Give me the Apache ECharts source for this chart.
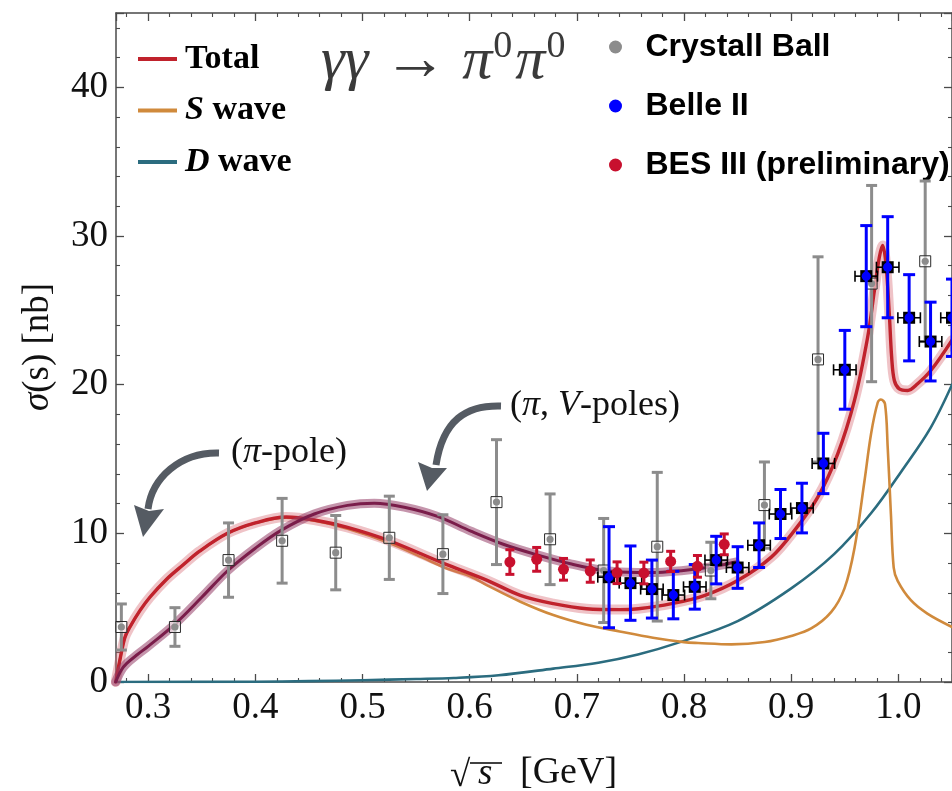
<!DOCTYPE html>
<html>
<head>
<meta charset="utf-8">
<script src="https://cdn.jsdelivr.net/npm/echarts@6/dist/echarts.min.js"></script>
<style>
  html, body { margin: 0; padding: 0; background: #ffffff; }
  #chart { width: 952px; height: 791px; }
</style>
</head>
<body>
<div id="chart"></div>
<script>
// ---- model curves (sqrt(s) in GeV, sigma in nb) ----
const totalX = [0.2697, 0.2737, 0.2783, 0.283, 0.2923, 0.3016, 0.317, 0.333, 0.348, 0.374, 0.40, 0.4287, 0.455, 0.486, 0.525, 0.575, 0.6163, 0.6473, 0.678, 0.709, 0.740, 0.7574, 0.7884, 0.8195, 0.8504, 0.8814, 0.9031, 0.9248, 0.9434, 0.959, 0.9713, 0.9776, 0.9822, 0.9853, 0.9884, 0.9915, 0.9937, 0.9962, 1.0008, 1.0086, 1.0179, 1.0302, 1.05];
const totalY = [0, 1.5, 3.0, 3.7, 4.8, 5.7, 6.9, 7.9, 8.8, 10.0, 10.7, 11.1, 10.9, 10.4, 9.5, 8.0, 6.84, 5.83, 5.27, 4.93, 4.87, 4.93, 5.27, 5.83, 6.84, 8.4, 10.2, 12.44, 15.35, 18.94, 23.19, 26.33, 28.57, 29.36, 28.1, 24.77, 21.85, 20.28, 19.72, 19.61, 20.06, 20.95, 23.0];

const sWaveX = [0.2697, 0.2737, 0.2783, 0.283, 0.2923, 0.3016, 0.317, 0.333, 0.348, 0.374, 0.40, 0.4287, 0.455, 0.486, 0.525, 0.555, 0.58, 0.6008, 0.6163, 0.6473, 0.678, 0.709, 0.740, 0.771, 0.80, 0.8132, 0.8442, 0.8753, 0.90, 0.9186, 0.9372, 0.9497, 0.959, 0.9683, 0.9745, 0.9807, 0.9837, 0.9875, 0.99, 0.993, 0.9956, 0.9993, 1.0116, 1.027, 1.05];
const sWaveY = [0, 1.5, 3.0, 3.7, 4.8, 5.7, 6.9, 7.9, 8.8, 10.0, 10.7, 11.05, 10.85, 10.3, 9.35, 8.4, 7.6, 7.1, 6.5, 5.4, 4.5, 3.85, 3.4, 2.98, 2.68, 2.62, 2.53, 2.69, 3.1, 3.6, 4.7, 6.3, 9.0, 13.5, 16.7, 18.8, 19.0, 18.7, 15.8, 11.3, 7.7, 6.8, 5.5, 4.6, 3.7];

const dWaveX = [0.2697, 0.40, 0.45, 0.50, 0.55, 0.5853, 0.627, 0.678, 0.72, 0.757, 0.797, 0.85, 0.90, 0.94, 0.975, 1.005, 1.03, 1.05];
const dWaveY = [0, 0.02, 0.06, 0.12, 0.2, 0.27, 0.45, 0.9, 1.3, 1.85, 2.7, 4.1, 6.3, 8.6, 11.4, 14.4, 17.1, 20.0];

const poleX = [0.2697, 0.275, 0.28, 0.29, 0.30, 0.325, 0.35, 0.3744, 0.40, 0.424, 0.455, 0.486, 0.511, 0.539, 0.57, 0.601, 0.632, 0.663, 0.694, 0.725, 0.756, 0.78, 0.807, 0.83, 0.848];
const poleY = [0, 0.8, 1.25, 1.85, 2.4, 3.9, 5.7, 7.5, 9.0, 10.2, 11.3, 11.88, 12.03, 11.76, 11.14, 10.15, 9.25, 8.55, 7.95, 7.5, 7.37, 7.39, 7.56, 7.8, 8.07];

// ---- measurements ----
const cbX = [0.275, 0.325, 0.375, 0.425, 0.475, 0.525, 0.575, 0.625, 0.675, 0.725, 0.775, 0.825, 0.875, 0.925, 0.975, 1.025];
const cbY = [3.7, 3.7, 8.2, 9.5, 8.7, 9.7, 8.6, 12.1, 9.6, 7.5, 9.1, 7.5, 11.9, 21.7, 26.8, 28.3];
const cbErr = [1.55, 1.3, 2.5, 2.85, 2.5, 2.8, 2.65, 4.2, 3.05, 3.5, 5.0, 1.9, 2.9, 6.9, 6.6, 5.4];

const belleX = [0.73, 0.75, 0.77, 0.79, 0.81, 0.83, 0.85, 0.87, 0.89, 0.91, 0.93, 0.95, 0.97, 0.99, 1.01, 1.03, 1.05];
const belleY = [7.05, 6.65, 6.25, 5.85, 6.4, 8.2, 7.7, 9.2, 11.3, 11.7, 14.7, 21.0, 27.3, 27.9, 24.5, 22.9, 24.5];
const belleErr = [3.4, 2.5, 1.95, 1.6, 1.5, 1.6, 1.4, 1.5, 1.65, 1.67, 2.03, 2.65, 3.4, 3.4, 2.9, 2.65, 2.6];
const belleBinHalf = 0.0105;

const besX = [0.6375, 0.6625, 0.6875, 0.7125, 0.7375, 0.7625, 0.7875, 0.8125, 0.8375];
const besY = [8.07, 8.25, 7.58, 7.46, 7.35, 7.33, 8.11, 7.78, 9.26];
const besErr = [0.83, 0.8, 0.73, 0.75, 0.73, 0.73, 0.68, 0.73, 0.7];

// ---- axis ranges ----
const X_MIN = 0.27, X_MAX = 1.05;
const Y_MIN = 0, Y_MAX = 45, Y_STEP = 10;

const SERIF = '"Liberation Serif", "Times New Roman", serif';
const SANS = '"Liberation Sans", Arial, sans-serif';

const C_TOTAL = '#c0222c';
const C_TOTAL_BAND = 'rgba(214, 96, 108, 0.38)';
const C_S = '#d08a3c';
const C_D = '#2b6c7f';
const C_POLE = '#7a1d4a';
const C_POLE_BAND = 'rgba(150, 62, 104, 0.55)';
const C_CB = '#8c8c8c';
const C_BELLE = '#0000ff';
const C_BES = '#c8102e';
const C_AXIS = '#4a4a4a';
const C_ARROW = '#555b63';
const C_TITLE = '#3a3a3a';

const zip = (xs, ys) => xs.map((x, i) => [x, ys[i]]);
const zip3 = (xs, ys, es) => xs.map((x, i) => [x, ys[i], es[i]]);

function curve(name, xs, ys, color, width, z) {
  return {
    name: name, type: 'line', data: zip(xs, ys), showSymbol: false, symbol: 'none',
    smooth: 0.35, silent: true, z: z,
    lineStyle: { color: color, width: width, cap: 'round', join: 'round' },
    itemStyle: { color: color }
  };
}

function vBar(api, x, y, e, color, lw, capHalf) {
  const top = api.coord([x, y + e]);
  const bot = api.coord([x, y - e]);
  const st = { stroke: color, lineWidth: lw };
  return [
    { type: 'line', shape: { x1: top[0], y1: top[1], x2: bot[0], y2: bot[1] }, style: st },
    { type: 'line', shape: { x1: top[0] - capHalf, y1: top[1], x2: top[0] + capHalf, y2: top[1] }, style: st },
    { type: 'line', shape: { x1: bot[0] - capHalf, y1: bot[1], x2: bot[0] + capHalf, y2: bot[1] }, style: st }
  ];
}

function renderCB(params, api) {
  const x = api.value(0), y = api.value(1), e = api.value(2);
  const c = api.coord([x, y]);
  const kids = vBar(api, x, y, e, C_CB, 3, 5.5);
  kids.push({ type: 'rect', shape: { x: c[0] - 5.5, y: c[1] - 5.5, width: 11, height: 11 },
              style: { fill: 'rgba(255,255,255,0.55)', stroke: '#2a2a2a', lineWidth: 1 } });
  kids.push({ type: 'circle', shape: { cx: c[0], cy: c[1], r: 3.6 }, style: { fill: C_CB } });
  return { type: 'group', children: kids };
}

function renderBelle(params, api) {
  const x = api.value(0), y = api.value(1), e = api.value(2);
  const c = api.coord([x, y]);
  const l = api.coord([x - belleBinHalf, y]);
  const r = api.coord([x + belleBinHalf, y]);
  const st = { stroke: '#000', lineWidth: 1.6 };
  const kids = [
    { type: 'line', shape: { x1: l[0], y1: l[1], x2: r[0], y2: r[1] }, style: st },
    { type: 'line', shape: { x1: l[0], y1: l[1] - 5.5, x2: l[0], y2: l[1] + 5.5 }, style: st },
    { type: 'line', shape: { x1: r[0], y1: r[1] - 5.5, x2: r[0], y2: r[1] + 5.5 }, style: st },
    { type: 'rect', shape: { x: c[0] - 6, y: c[1] - 6, width: 12, height: 12 }, style: { fill: '#000' } }
  ];
  vBar(api, x, y, e, C_BELLE, 3, 6).forEach(k => kids.push(k));
  kids.push({ type: 'circle', shape: { cx: c[0], cy: c[1], r: 4.6 }, style: { fill: C_BELLE } });
  return { type: 'group', children: kids };
}

function renderBES(params, api) {
  const x = api.value(0), y = api.value(1), e = api.value(2);
  const c = api.coord([x, y]);
  const kids = vBar(api, x, y, e, C_BES, 3, 4.5);
  kids.push({ type: 'circle', shape: { cx: c[0], cy: c[1], r: 5.5 }, style: { fill: C_BES } });
  return { type: 'group', children: kids };
}

function dataSeries(name, data, render, color, z) {
  return {
    name: name, type: 'custom', data: data, renderItem: render, z: z,
    itemStyle: { color: color }, encode: { x: 0, y: 1 }, silent: true
  };
}

function xAxisDef(position, showLabel) {
  return {
    type: 'value', position: position, min: X_MIN, max: X_MAX, splitNumber: 8,
    axisLine: { show: true, onZero: false, lineStyle: { color: C_AXIS, width: 1.5 } },
    axisTick: { show: true, inside: true, length: 8, lineStyle: { color: C_AXIS, width: 1.3 } },
    minorTick: { show: true, splitNumber: 5, length: 4, lineStyle: { color: C_AXIS, width: 1.1 } },
    splitLine: { show: false }, minorSplitLine: { show: false },
    axisLabel: {
      show: showLabel, margin: 8, fontFamily: SERIF, fontSize: 37, color: '#111',
      showMinLabel: false, showMaxLabel: false,
      formatter: v => v.toFixed(1)
    }
  };
}

function yAxisDef(position, showLabel) {
  return {
    type: 'value', position: position, min: Y_MIN, max: Y_MAX, interval: Y_STEP,
    axisLine: { show: true, onZero: false, lineStyle: { color: C_AXIS, width: 1.5 } },
    axisTick: { show: true, inside: true, length: 8, lineStyle: { color: C_AXIS, width: 1.3 } },
    minorTick: { show: true, splitNumber: 5, length: 4, lineStyle: { color: C_AXIS, width: 1.1 } },
    splitLine: { show: false }, minorSplitLine: { show: false },
    axisLabel: {
      show: showLabel, margin: 8, fontFamily: SERIF, fontSize: 37, color: '#111',
      showMaxLabel: false
    }
  };
}

const chart = echarts.init(document.getElementById('chart'), null, { renderer: 'canvas' });

const option = {
  animation: false,
  backgroundColor: '#ffffff',
  textStyle: { fontFamily: SERIF },
  grid: { left: 116, top: 13, width: 838.6, height: 669, containLabel: false },
  xAxis: [xAxisDef('bottom', true), xAxisDef('top', false)],
  yAxis: [yAxisDef('left', true), yAxisDef('right', false)],
  legend: [
    {
      data: ['Total', 'S wave', 'D wave'],
      orient: 'vertical', left: 133, top: 37, itemGap: 17.5,
      icon: 'rect', itemWidth: 39, itemHeight: 4,
      selectedMode: false,
      formatter: function (name) {
        if (name === 'S wave') return '{p|}{i|S} wave';
        if (name === 'D wave') return '{p|}{i|D} wave';
        return '{p|}' + name;
      },
      textStyle: {
        fontFamily: SERIF, fontWeight: 'bold', fontSize: 34, color: '#000',
        rich: {
          p: { width: 3 },
          i: { fontFamily: SERIF, fontStyle: 'italic', fontWeight: 'bold', fontSize: 34, color: '#000' }
        }
      }
    },
    {
      data: ['Crystall Ball', 'Belle II', 'BES III (preliminary)'],
      orient: 'vertical', left: 604, top: 26, itemGap: 27,
      icon: 'circle', itemWidth: 50, itemHeight: 13,
      selectedMode: false,
      textStyle: { fontFamily: SANS, fontWeight: 'bold', fontSize: 32, color: '#000' }
    }
  ],
  series: [
    curve('D wave', dWaveX, dWaveY, C_D, 2.6, 2),
    curve('S wave', sWaveX, sWaveY, C_S, 2.6, 3),
    curve('Total band', totalX, totalY, C_TOTAL_BAND, 10, 4),
    curve('Total', totalX, totalY, C_TOTAL, 3.4, 5),
    curve('pole band', poleX, poleY, C_POLE_BAND, 9, 6),
    curve('pole', poleX, poleY, C_POLE, 3, 7),
    dataSeries('Crystall Ball', zip3(cbX, cbY, cbErr), renderCB, C_CB, 10),
    dataSeries('Belle II', zip3(belleX, belleY, belleErr), renderBelle, C_BELLE, 11),
    dataSeries('BES III (preliminary)', zip3(besX, besY, besErr), renderBES, C_BES, 12)
  ],
  graphic: [
    // process title
    {
      type: 'text', left: 321, top: 28, z: 20,
      style: {
        text: '{g|γγ}{sp|}{a|→}{sp|}{g|π}{s|0}{g|π}{s|0}',
        font: '58px ' + SERIF, fill: C_TITLE,
        rich: {
          g: { fontFamily: SERIF, fontStyle: 'italic', fontSize: 60, fill: C_TITLE },
          a: { fontFamily: SERIF, fontSize: 64, fill: C_TITLE },
          sp: { width: 15 },
          s: { fontFamily: SERIF, fontSize: 38, fill: C_TITLE, verticalAlign: 'top', padding: [0, 3, 30, 1] }
        }
      }
    },
    // y axis title
    {
      type: 'text', x: 38, y: 347, rotation: Math.PI / 2, z: 20,
      style: {
        text: '{i|σ}(s) [nb]', align: 'center', verticalAlign: 'middle',
        font: '37px ' + SERIF, fill: '#111',
        rich: { i: { fontFamily: SERIF, fontStyle: 'italic', fontSize: 37, fill: '#111' } }
      }
    },
    // x axis title: radical sign, s, vinculum, unit
    { type: 'text', x: 450, y: 776, z: 20,
      style: { text: '√', font: '37px ' + SERIF, fill: '#111', verticalAlign: 'middle' } },
    { type: 'text', x: 478, y: 774, z: 20,
      style: { text: 's', font: 'italic 37px ' + SERIF, fill: '#111', verticalAlign: 'middle' } },
    { type: 'line', z: 20, shape: { x1: 470, y1: 763, x2: 502, y2: 763 }, style: { stroke: '#111', lineWidth: 1.6 } },
    { type: 'text', x: 520, y: 773, z: 20,
      style: { text: '[GeV]', font: '38px ' + SERIF, fill: '#111', verticalAlign: 'middle' } },
    // annotations
    { type: 'text', x: 231, y: 453, z: 20,
      style: { text: '({i|π}-pole)', font: '36px ' + SERIF, fill: '#111', verticalAlign: 'middle',
               rich: { i: { fontFamily: SERIF, fontStyle: 'italic', fontSize: 36, fill: '#111' } } } },
    { type: 'text', x: 510, y: 406, z: 20,
      style: { text: '({i|π}, {i|V}-poles)', font: '36px ' + SERIF, fill: '#111', verticalAlign: 'middle',
               rich: { i: { fontFamily: SERIF, fontStyle: 'italic', fontSize: 36, fill: '#111' } } } },
    { type: 'bezierCurve', z: 20,
      shape: { x1: 219, y1: 453, cpx1: 180, cpy1: 452, cpx2: 152, cpy2: 478, x2: 148, y2: 509 },
      style: { stroke: C_ARROW, lineWidth: 7, fill: null } },
    { type: 'polygon', z: 20,
      shape: { points: [[134, 505], [149, 511], [164, 509], [143, 537]] },
      style: { fill: C_ARROW } },
    { type: 'bezierCurve', z: 20,
      shape: { x1: 501, y1: 406, cpx1: 466, cpy1: 405, cpx2: 443, cpy2: 420, x2: 436, y2: 465 },
      style: { stroke: C_ARROW, lineWidth: 7, fill: null } },
    { type: 'polygon', z: 20,
      shape: { points: [[418, 462], [432, 468], [447, 468], [427, 491]] },
      style: { fill: C_ARROW } }
  ]
};

chart.setOption(option);
</script>
</body>
</html>
